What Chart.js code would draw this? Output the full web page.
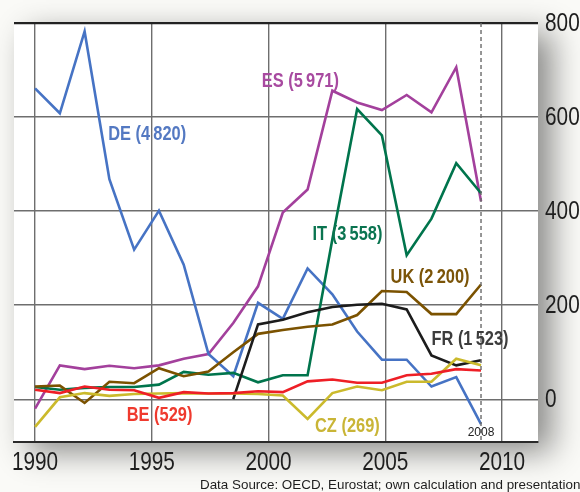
<!DOCTYPE html>
<html>
<head>
<meta charset="utf-8">
<script src="https://cdn.jsdelivr.net/npm/chart.js@4.4.1/dist/chart.umd.min.js"></script>
<style>
    html, body { margin: 0; padding: 0; background: #fafaf7; overflow: hidden; }
    canvas { display: block; }
</style>
</head>
<body>
<canvas id="fdiCanvas" width="580" height="492"></canvas>
<script>
// values (years 1990 - 2008)
const years = [1990, 1991, 1992, 1993, 1994, 1995, 1996, 1997, 1998, 1999,
               2000, 2001, 2002, 2003, 2004, 2005, 2006, 2007, 2008];
const xTickLabels = ['1990', '1995', '2000', '2005', '2010'];
const yTickLabels = ['0', '200', '400', '600', '800'];

const countries = ['BE', 'CZ', 'FR', 'UK', 'IT', 'DE', 'ES'];
const totals = ['529', '269', '1\u2009523', '2\u2009200', '3\u2009558', '4\u2009820', '5\u2009971'];

const seriesBE = [20, 13, 27, 20, 19, 3, 15, 12, 13, 17, 15, 38, 42, 35, 35, 51, 54, 64, 61];
const seriesCZ = [-59, 4, 13, 7, 11, 12, 13, 12, 12, 11, 8, -42, 13, 27, 19, 37, 37, 86, 72];
const seriesFR = [null, null, null, null, null, null, null, null, 0, 159, 169, 185, 196, 201, 203, 191, 93, 72, 83];
const seriesUK = [27, 29, -8, 37, 34, 66, 49, 59, 100, 139, 147, 154, 159, 179, 230, 228, 181, 181, 244];
const seriesIT = [26, 20, 24, 26, 26, 31, 58, 52, 56, 36, 51, 51, 340, 617, 561, 306, 384, 502, 438];
const seriesDE = [661, 608, 782, 468, 318, 401, 286, 96, 49, 205, 171, 278, 223, 144, 84, 84, 27, 47, -53];
const seriesES = [-20, 72, 64, 71, 66, 72, 86, 96, 162, 240, 397, 446, 656, 631, 615, 647, 610, 706, 421];

const allSeries = [seriesBE, seriesCZ, seriesFR, seriesUK, seriesIT, seriesDE, seriesES];

const lineColors = ['#ee1f26', '#cbba2c', '#1c1c1c', '#7b5200', '#00744c', '#4673c4', '#a3409c'];
const textColors = ['#ef3a2e', '#c9b536', '#3c3c3c', '#7b5408', '#0a7450', '#5479c2', '#a84aa0'];
// where each name label sits, in data units (left edge, middle)
const labelSpots = [[1993.7, -35], [2001.3, -58], [2006.0, 127], [2004.35, 258],
                    [2001.2, 350], [1992.95, 562], [1999.15, 676]];

const sans = "'Liberation Sans', Arial, sans-serif";

function toPoints(values) {
    return values.map(function (v, i) { return { x: years[i], y: v }; });
}

// the original uses a condensed face, so squeeze regular glyphs sideways
function squeezedText(ctx, text, x, y, squeeze) {
    ctx.save();
    ctx.translate(x, y);
    ctx.scale(squeeze, 1);
    ctx.fillText(text, 0, 0);
    ctx.restore();
}

const datasets = allSeries.map(function (values, i) {
    return {
        label: countries[i],
        data: toPoints(values),
        borderColor: lineColors[i],
        borderWidth: 2.6,
        pointRadius: 0,
        tension: 0,
        spanGaps: false
    };
});

const backdrop = {
    id: 'backdrop',
    beforeDraw: function (chart) {
        const ctx = chart.ctx;
        const a = chart.chartArea;
        ctx.save();
        ctx.fillStyle = '#fafaf7';
        ctx.fillRect(0, 0, chart.width, chart.height);
        ctx.shadowColor = 'rgba(0,0,0,0.45)';
        ctx.shadowBlur = 30;
        ctx.shadowOffsetX = 14;
        ctx.shadowOffsetY = 10;
        ctx.fillStyle = '#ffffff';
        ctx.fillRect(a.left, a.top, a.right - a.left, a.bottom - a.top);
        ctx.restore();
    }
};

const annotations = {
    id: 'annotations',
    afterDatasetsDraw: function (chart) {
        const ctx = chart.ctx;
        const xs = chart.scales.x;
        const ys = chart.scales.y;
        const a = chart.chartArea;
        const lastYear = years[years.length - 1];
        const xLast = xs.getPixelForValue(lastYear);

        ctx.save();
        // dashed marker at the last data year
        ctx.strokeStyle = '#6a6a6a';
        ctx.lineWidth = 1.4;
        ctx.setLineDash([4, 3]);
        ctx.beginPath();
        ctx.moveTo(xLast, a.top);
        ctx.lineTo(xLast, a.bottom);
        ctx.stroke();
        ctx.setLineDash([]);

        ctx.textBaseline = 'middle';
        ctx.font = '12px ' + sans;
        ctx.fillStyle = '#222';
        ctx.textAlign = 'center';
        ctx.fillText(String(lastYear), xLast, ys.getPixelForValue(-71));

        ctx.textAlign = 'left';
        ctx.font = 'bold 20px ' + sans;
        countries.forEach(function (name, i) {
            ctx.fillStyle = textColors[i];
            squeezedText(ctx, name + ' (' + totals[i] + ')',
                xs.getPixelForValue(labelSpots[i][0]), ys.getPixelForValue(labelSpots[i][1]), 0.82);
        });
        ctx.restore();
    },
    afterDraw: function (chart) {
        const ctx = chart.ctx;
        const a = chart.chartArea;
        const xg = chart.scales.xg;
        const ys = chart.scales.y;
        ctx.save();
        ctx.fillStyle = '#1e1e1e';
        ctx.font = '26px ' + sans;
        ctx.textBaseline = 'middle';

        // axis labels from the scales' own ticks
        ctx.textAlign = 'center';
        xg.ticks.forEach(function (t) {
            squeezedText(ctx, String(t.value), xg.getPixelForValue(t.value), a.bottom + 21, 0.8);
        });
        ctx.textAlign = 'left';
        ys.ticks.forEach(function (t) {
            squeezedText(ctx, String(t.value), a.right + 7, ys.getPixelForValue(t.value) + 1, 0.8);
        });

        ctx.font = '13.4px ' + sans;
        ctx.textBaseline = 'alphabetic';
        ctx.fillText('Data Source: OECD, Eurostat; own calculation and presentation', 200, 489);
        ctx.restore();
    }
};

const fdiChart = new Chart(document.getElementById('fdiCanvas'), {
    type: 'line',
    data: { datasets: datasets },
    options: {
        responsive: false,
        animation: false,
        devicePixelRatio: 1,
        layout: { padding: { left: 14, top: 23, right: 0, bottom: 0 } },
        plugins: {
            legend: { display: false },
            tooltip: { enabled: false }
        },
        scales: {
            x: {
                type: 'linear',
                display: false,
                min: 1989.15,
                max: 2010.3
            },
            xg: {
                type: 'linear',
                position: 'bottom',
                min: 1989.1,
                max: 2011.54,
                afterBuildTicks: function (scale) {
                    scale.ticks = xTickLabels.map(function (t) { return { value: Number(t) }; });
                },
                afterFit: function (scale) { scale.height = 50; },
                ticks: {
                    padding: 5,
                    color: 'rgba(0,0,0,0)',
                    font: { family: sans, size: 20 },
                    maxRotation: 0,
                    callback: function (v) { return String(v); }
                },
                grid: { color: '#6e6e6e', lineWidth: 1.4, drawTicks: false },
                border: { display: true, color: '#2a2a2a', width: 2 }
            },
            y: {
                type: 'linear',
                position: 'right',
                min: -91,
                max: 800,
                afterBuildTicks: function (scale) {
                    scale.ticks = yTickLabels.map(function (t) { return { value: Number(t) }; });
                },
                afterFit: function (scale) { scale.width = 42; },
                ticks: {
                    padding: 7,
                    color: 'rgba(0,0,0,0)',
                    font: { family: sans, size: 20 },
                    callback: function (v) { return String(v); }
                },
                grid: {
                    drawTicks: false,
                    color: function (c) { return c.tick && c.tick.value === 800 ? '#222' : '#6e6e6e'; },
                    lineWidth: function (c) { return c.tick && c.tick.value === 800 ? 2.2 : 1.4; }
                },
                border: { display: false }
            }
        }
    },
    plugins: [backdrop, annotations]
});
</script>
</body>
</html>
